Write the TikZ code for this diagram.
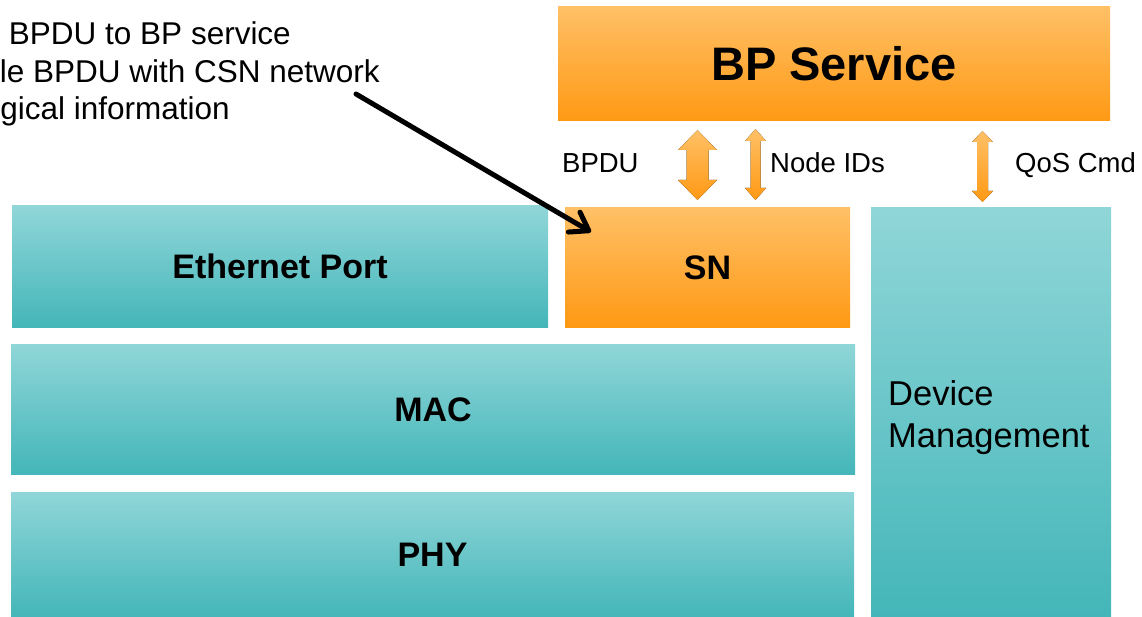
\documentclass[tikz,border=0pt]{standalone}
\usepackage{fontspec}
\setmainfont{Liberation Sans}
\usetikzlibrary{arrows.meta}

\definecolor{orgtop}{HTML}{FFC066}
\definecolor{orgbot}{HTML}{FF9914}
\definecolor{teltop}{HTML}{90D6D8}
\definecolor{telbot}{HTML}{44B6B9}

\tikzset{
  layer/.style={rectangle, inner sep=0pt, draw=none,
    font=\fontsize{34}{40}\selectfont\bfseries,
    text height=24.3pt, text depth=0pt},
  tealbox/.style={layer, top color=teltop, bottom color=telbot},
  orangebox/.style={layer, top color=orgtop, bottom color=orgbot},
  lbl/.style={inner sep=0pt, font=\fontsize{27.5}{33}\selectfont},
  note/.style={inner sep=0pt, font=\fontsize{31.5}{37.5}\selectfont},
  devtext/.style={inner sep=0pt, font=\fontsize{34.5}{42}\selectfont},
  pointer/.style={line width=5pt, line cap=round,
    -{Straight Barb[length=17pt, width=23pt, line cap=round, line join=round]}},
  % vertical double block arrow: length / head width / shaft width / head length
  pics/dblarrow/.style args={#1/#2/#3/#4}{
    code={
      \fill[top color=orgtop, bottom color=orgbot]
        (0,0) -- (#2/2,#4) -- (#3/2,#4) -- (#3/2,#1-#4) -- (#2/2,#1-#4)
        -- (0,#1) -- (-#2/2,#1-#4) -- (-#3/2,#1-#4) -- (-#3/2,#4)
        -- (-#2/2,#4) -- cycle;
    }
  }
}

\begin{document}
\begin{tikzpicture}[x=1pt, y=-1pt]
  \useasboundingbox (0,0) rectangle (1142,617);

  % protocol layers
  \node[orangebox, minimum width=552pt, minimum height=114pt,
        font=\fontsize{47}{54}\selectfont\bfseries, text height=33.6pt]
        (bp) at (834,64) {BP Service};
  \node[tealbox, minimum width=536pt, minimum height=121pt] (eth) at (280,266.5) {Ethernet Port};
  \node[orangebox, minimum width=285pt, minimum height=119pt] (sn) at (707.5,267.5) {SN};
  \node[tealbox, minimum width=844pt, minimum height=130pt] (mac) at (433,409) {MAC};
  \node[tealbox, minimum width=843pt, minimum height=125pt] (phy) at (432.5,554.5) {PHY};
  \node[tealbox, minimum width=240pt, minimum height=409pt] (dev) at (991,412.5) {};
  \node[devtext, anchor=base west] (dev1) at (888,405) {Device};
  \node[devtext, anchor=base west] (dev2) at (888,447) {Management};

  % interfaces between the BP service and the layers below
  \pic at (697.5,130) {dblarrow={70/39/22/20}};
  \pic at (755.5,129) {dblarrow={71/21/10/12}};
  \pic at (982.5,131) {dblarrow={71/21/11/11}};
  \node[lbl, anchor=base west] (lbpdu) at (562,173) {BPDU};
  \node[lbl, anchor=base west] (lids) at (770,173) {Node IDs};
  \node[lbl, anchor=base west] (lqos) at (1015,173) {QoS Cmd};

  % annotation on the SN role
  \node[note, anchor=base east] (n1) at (291,45) {BPDU to BP service};
  \node[note, anchor=base east] (n2) at (380,83) {le BPDU with CSN network};
  \node[note, anchor=base east] (n3) at (230,120) {gical information};
  \coordinate (nstart) at (356,94);
  \coordinate (ntip) at (591,232);
  \draw[pointer] (nstart) -- (ntip);
\end{tikzpicture}
\end{document}
